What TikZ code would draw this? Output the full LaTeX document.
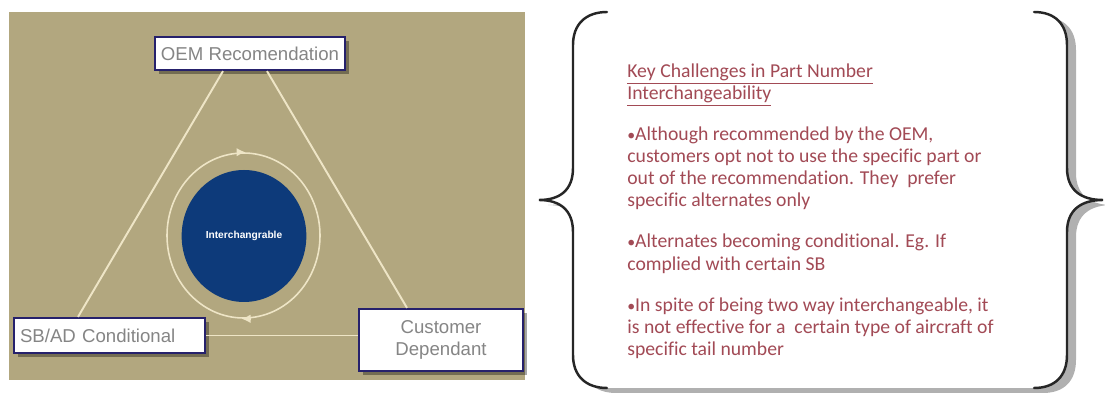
\documentclass[tikz,border=0pt]{standalone}
\usepackage{fontspec}
\setmainfont{Liberation Sans}
\newfontfamily\notefont[Ligatures=NoCommon]{Carlito}
\usepackage{xcolor}
\usepackage{tikz}
\usetikzlibrary{positioning, calc, arrows.meta, shapes.geometric, shadows}
\definecolor{PanelTan}{HTML}{B2A77F}
\definecolor{OrbBlue}{HTML}{0D3A7A}
\definecolor{RingCream}{HTML}{EEE5C6}
\definecolor{BoxNavy}{HTML}{26216C}
\definecolor{BoxGray}{HTML}{858585}
\definecolor{NoteRed}{HTML}{A24A55}
\definecolor{BraceInk}{HTML}{262626}
\definecolor{BraceShade}{HTML}{B0B0B0}

\begin{document}
\begin{tikzpicture}[
  tagbox/.style={draw=BoxNavy, line width=1.3pt, fill=white, text=BoxGray,
    font=\fontsize{10.6}{13}\selectfont, inner sep=0pt,
    drop shadow={shadow xshift=0.07cm, shadow yshift=-0.08cm, fill=black, opacity=0.35}},
  creamline/.style={RingCream, line width=1.1pt},
  ringtip/.style={RingCream, line width=0.9pt, -{Latex[length=1.8mm, width=1.7mm]}},
  braceline/.style={BraceInk, line width=1.4pt, line cap=round}]
  \useasboundingbox (0,0) rectangle (22.1,7.88);

  % left panel
  \fill[PanelTan] (0.18,0.28) rectangle (10.5,7.64);
  \node[tagbox, minimum width=3.8cm, minimum height=0.66cm] (oem) at (5.0,6.81) {OEM Recomendation};
  \node[tagbox, minimum width=3.82cm, minimum height=0.70cm, text width=3.58cm, align=left] (sbad) at (2.19,1.17) {SB/AD Conditional};
  \node[tagbox, minimum width=3.28cm, minimum height=1.24cm, align=center] (cust) at (8.82,1.08) {Customer\\Dependant};
  \draw[creamline] ([xshift=-0.54cm]oem.south) -- ([xshift=-0.63cm]sbad.north);
  \draw[creamline] ([xshift=0.34cm]oem.south) -- ([xshift=-0.68cm]cust.north);
  \draw[creamline] (sbad.east) -- (sbad.east -| cust.west);

  \node[ellipse, draw=RingCream, line width=0.9pt, minimum width=3.06cm, minimum height=3.30cm] (ring) at (4.87,3.17) {};
  \node[ellipse, fill=OrbBlue, minimum width=2.48cm, minimum height=2.64cm, text=white,
    font=\bfseries\fontsize{5.8}{7}\selectfont] (orb) at (4.88,3.16) {Interchangrable};
  \draw[ringtip] ([xshift=-1.2mm]ring.north) -- ([xshift=0.4mm]ring.north);
  \draw[ringtip] ([xshift=1.2mm]ring.south) -- ([xshift=-0.4mm]ring.south);

  % right panel: braced note
  \path[fill=white, preaction={fill=BraceShade, transform canvas={shift={(0.18,-0.1)}}}]
    (12.14,7.64) .. controls (11.72,7.64) and (11.46,7.40) .. (11.46,6.98) -- (11.46,4.52)
    .. controls (11.46,4.08) and (11.20,3.88) .. (10.78,3.88)
    .. controls (11.20,3.88) and (11.46,3.68) .. (11.46,3.24) -- (11.46,0.78)
    .. controls (11.46,0.36) and (11.72,0.12) .. (12.14,0.12) -- (20.68,0.12)
    .. controls (21.10,0.12) and (21.34,0.36) .. (21.34,0.78) -- (21.34,3.24)
    .. controls (21.34,3.68) and (21.62,3.88) .. (22.06,3.88)
    .. controls (21.62,3.88) and (21.34,4.08) .. (21.34,4.52) -- (21.34,6.98)
    .. controls (21.34,7.40) and (21.10,7.64) .. (20.68,7.64) -- cycle;
  \draw[braceline] (12.14,7.64) .. controls (11.72,7.64) and (11.46,7.40) .. (11.46,6.98) -- (11.46,4.52)
    .. controls (11.46,4.08) and (11.20,3.88) .. (10.78,3.88)
    .. controls (11.20,3.88) and (11.46,3.68) .. (11.46,3.24) -- (11.46,0.78)
    .. controls (11.46,0.36) and (11.72,0.12) .. (12.14,0.12);
  \draw[braceline] (20.68,0.12) .. controls (21.10,0.12) and (21.34,0.36) .. (21.34,0.78) -- (21.34,3.24)
    .. controls (21.34,3.68) and (21.62,3.88) .. (22.06,3.88)
    .. controls (21.62,3.88) and (21.34,4.08) .. (21.34,4.52) -- (21.34,6.98)
    .. controls (21.34,7.40) and (21.10,7.64) .. (20.68,7.64);

  \node[anchor=north west, align=left, inner sep=0pt, text=NoteRed,
    font=\notefont\fontsize{11.2}{12.6}\selectfont] (notes) at (12.54,6.62)
    {\underline{Key Challenges in Part Number}\\
     \underline{Interchangeability}\\[0.38cm]
     {\small•}Although recommended by the OEM,\\
     customers opt not to use the specific part or\\
     out of the recommendation. They\ \ prefer\\
     specific alternates only\\[0.38cm]
     {\small•}Alternates becoming conditional. Eg. If\\
     complied with certain SB\\[0.38cm]
     {\small•}In spite of being two way interchangeable, it\\
     is not effective for a\ \ certain type of aircraft of\\
     specific tail number};
\end{tikzpicture}
\end{document}
